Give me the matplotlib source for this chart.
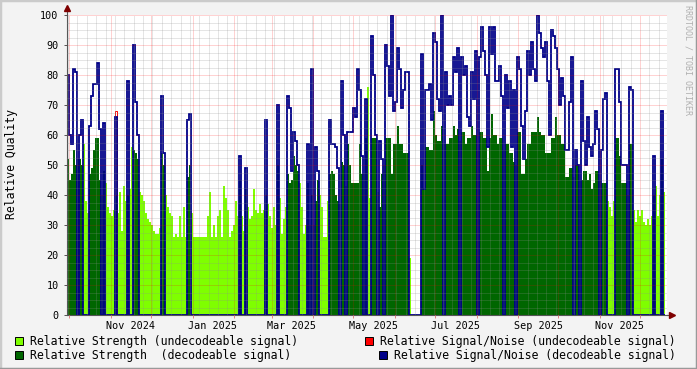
import datetime as dt
import numpy as np
import matplotlib
matplotlib.use("Agg")
import matplotlib.pyplot as plt
import matplotlib.dates as mdates
from matplotlib.patches import Rectangle
from matplotlib.lines import Line2D

plt.rcParams['font.family'] = ['DejaVu Sans Mono']

# one sample per ~1.5 days, starting late Sep 2024
start = dt.datetime(2024, 9, 29, 6)
span_days = 447.86
n_slots = 300

# relative strength while the signal could not be decoded (light green)
strength_undec = [
    0, 0, 0, 0, 0, 0, 0, 0, 57, 38,
    34, 0, 0, 0, 0, 0, 0, 40, 0, 44,
    36, 34, 33, 35, 0, 34, 41, 28, 43, 38,
    0, 42, 56, 0, 0, 0, 41, 40, 38, 34,
    32, 31, 30, 28, 27, 27, 29, 0, 0, 40,
    36, 34, 33, 26, 27, 26, 33, 26, 36, 26,
    0, 0, 34, 26, 26, 26, 26, 26, 26, 26,
    33, 41, 26, 30, 26, 33, 35, 26, 43, 39,
    35, 26, 28, 30, 38, 33, 0, 33, 28, 0,
    36, 32, 33, 42, 35, 34, 37, 34, 35, 0,
    37, 33, 29, 36, 30, 0, 39, 27, 32, 36,
    0, 0, 0, 0, 0, 0, 44, 36, 27, 30,
    0, 30, 0, 30, 0, 0, 40, 36, 26, 26,
    38, 0, 0, 0, 0, 0, 37, 0, 0, 43,
    0, 0, 0, 0, 0, 0, 0, 0, 47, 0,
    76, 39, 0, 0, 0, 41, 0, 0, 50, 0,
    0, 0, 0, 0, 0, 0, 0, 0, 0, 0,
    0, 19, 0, 0, 0, 0, 0, 0, 0, 0,
    0, 0, 0, 0, 0, 0, 0, 0, 57, 0,
    0, 0, 0, 0, 0, 0, 58, 0, 0, 0,
    0, 0, 0, 0, 0, 55, 0, 0, 0, 0,
    0, 0, 0, 0, 0, 0, 0, 0, 55, 0,
    0, 0, 0, 0, 50, 0, 0, 0, 0, 0,
    0, 0, 0, 0, 0, 0, 0, 0, 0, 0,
    0, 0, 0, 0, 0, 0, 0, 0, 0, 0,
    0, 0, 0, 46, 0, 0, 45, 0, 0, 0,
    0, 0, 0, 0, 0, 0, 45, 0, 0, 0,
    38, 36, 33, 38, 0, 0, 0, 0, 0, 0,
    40, 0, 0, 35, 31, 35, 33, 35, 31, 30,
    32, 30, 33, 0, 43, 33, 40, 0, 41,
]

# relative strength while decodable (dark green)
strength_dec = [
    52, 45, 47, 55, 50, 52, 52, 50, 0, 0,
    0, 47, 49, 55, 59, 59, 45, 0, 48, 0,
    0, 0, 0, 0, 40, 0, 0, 0, 0, 0,
    40, 0, 0, 55, 54, 52, 0, 0, 0, 0,
    0, 0, 0, 0, 0, 0, 0, 54, 50, 0,
    0, 0, 0, 0, 0, 0, 0, 0, 0, 0,
    46, 50, 0, 0, 0, 0, 0, 0, 0, 0,
    0, 0, 0, 0, 0, 0, 0, 0, 0, 0,
    0, 0, 0, 0, 0, 0, 45, 0, 0, 42,
    0, 0, 0, 0, 0, 0, 0, 0, 0, 40,
    0, 0, 0, 0, 0, 50, 0, 0, 0, 0,
    47, 44, 45, 53, 50, 48, 0, 0, 0, 0,
    44, 0, 40, 0, 38, 45, 0, 0, 0, 0,
    0, 47, 48, 47, 40, 38, 0, 51, 50, 0,
    57, 50, 44, 44, 44, 44, 57, 47, 0, 59,
    0, 0, 59, 59, 59, 0, 36, 47, 0, 59,
    59, 59, 47, 57, 57, 63, 57, 57, 54, 54,
    54, 0, 0, 0, 0, 0, 0, 50, 42, 56,
    56, 55, 55, 68, 60, 58, 58, 63, 0, 57,
    57, 59, 59, 63, 60, 62, 0, 61, 61, 57,
    59, 59, 63, 60, 60, 0, 61, 61, 59, 59,
    48, 59, 67, 60, 60, 57, 59, 59, 0, 57,
    57, 54, 54, 51, 0, 61, 61, 47, 47, 52,
    57, 57, 61, 61, 61, 66, 61, 60, 60, 54,
    54, 54, 59, 59, 66, 60, 60, 57, 57, 46,
    46, 49, 49, 0, 50, 50, 0, 45, 48, 48,
    45, 47, 42, 44, 48, 48, 0, 44, 44, 44,
    0, 0, 0, 0, 59, 59, 53, 44, 44, 44,
    0, 57, 57, 0, 0, 0, 0, 0, 0, 0,
    0, 0, 0, 40, 0, 0, 0, 52, 0,
]

# relative signal/noise while decodable (navy line)
snr_dec = [
    80, 60, 57, 82, 81, 0, 60, 65, 0, 0,
    0, 63, 73, 77, 77, 84, 62, 0, 64, 0,
    0, 0, 0, 0, 66, 0, 0, 0, 0, 0,
    78, 0, 0, 90, 71, 60, 0, 0, 0, 0,
    0, 0, 0, 0, 0, 0, 0, 73, 54, 0,
    0, 0, 0, 0, 0, 0, 0, 0, 0, 0,
    65, 67, 0, 0, 0, 0, 0, 0, 0, 0,
    0, 0, 0, 0, 0, 0, 0, 0, 0, 0,
    0, 0, 0, 0, 0, 0, 53, 0, 0, 49,
    0, 0, 0, 0, 0, 0, 0, 0, 0, 65,
    0, 0, 0, 0, 0, 70, 0, 0, 0, 0,
    73, 69, 48, 61, 58, 50, 0, 0, 0, 0,
    57, 0, 82, 0, 56, 48, 0, 0, 0, 0,
    0, 65, 57, 57, 56, 49, 0, 78, 60, 0,
    61, 61, 61, 69, 66, 82, 75, 53, 0, 72,
    0, 0, 93, 80, 60, 0, 58, 52, 0, 90,
    83, 73, 100, 68, 71, 89, 82, 69, 75, 81,
    81, 0, 0, 0, 0, 0, 0, 87, 42, 75,
    75, 77, 65, 94, 91, 72, 68, 100, 0, 81,
    70, 73, 70, 86, 81, 89, 0, 86, 80, 83,
    66, 63, 81, 72, 88, 0, 86, 96, 88, 80,
    56, 96, 87, 96, 78, 78, 83, 73, 0, 80,
    69, 78, 56, 75, 0, 86, 82, 63, 52, 68,
    88, 80, 91, 82, 78, 100, 94, 89, 86, 91,
    78, 60, 95, 93, 89, 82, 70, 79, 73, 55,
    55, 71, 86, 0, 55, 50, 0, 78, 58, 50,
    66, 56, 53, 57, 68, 62, 0, 55, 72, 74,
    0, 0, 0, 0, 82, 82, 71, 50, 50, 50,
    0, 76, 75, 0, 0, 0, 0, 0, 0, 0,
    0, 0, 0, 53, 0, 0, 0, 68, 0,
]

# relative signal/noise while undecodable (red line), almost always zero
snr_undec = [0] * 24 + [68] + [0] * 274

ylabel = "Relative Quality"
legend_labels = [
    "Relative Strength (undecodeable signal)",
    "Relative Signal/Noise (undecodeable signal)",
    "Relative Strength  (decodeable signal)",
    "Relative Signal/Noise (decodeable signal)",
]
c_light = '#7fff00'
c_red = '#ff0000'
c_dark = '#006600'
c_navy = '#000088'

t0 = mdates.date2num(start)
step = span_days / n_slots
edges = t0 + step * np.arange(len(snr_dec) + 1)

W, H = 697, 369
fig = plt.figure(figsize=(W / 100, H / 100), dpi=100, facecolor='#f3f3f3')
ax = fig.add_axes([67 / W, 1 - 315 / H, 600 / W, 300 / H])
ax.set_facecolor('white')

ax.stairs(strength_undec, edges, baseline=0, fill=True, color=c_light, lw=0, zorder=1.0)
ax.stairs(snr_undec, edges, baseline=0, fill=False, color=c_red, lw=0.7, zorder=1.1)
ax.stairs(strength_dec, edges, baseline=0, fill=True, color=c_dark, lw=0, zorder=1.2)
ax.stairs(snr_dec, edges, baseline=0, fill=False, color=c_navy, lw=1.3, zorder=1.3)

ax.set_xlim(t0, t0 + span_days)
ax.set_ylim(0, 100)

ax.yaxis.set_major_locator(matplotlib.ticker.MultipleLocator(10))
ax.yaxis.set_minor_locator(matplotlib.ticker.MultipleLocator(2.5))
ax.xaxis.set_major_locator(mdates.MonthLocator())
ax.xaxis.set_minor_locator(mdates.WeekdayLocator(byweekday=mdates.MO))
ax.xaxis.set_major_formatter(matplotlib.ticker.NullFormatter())

ax.set_axisbelow(False)
ax.grid(which='minor', color='#8f8f8f', alpha=0.45, linestyle=(0, (1, 1)), lw=0.72)
ax.grid(which='major', color='#ff0000', alpha=0.35, linestyle=(0, (1, 1)), lw=0.72)

ax.tick_params(axis='y', which='major', length=2, width=0.7, color='#555555',
               labelsize=7.3, pad=4)
ax.tick_params(axis='y', which='minor', length=0)
ax.tick_params(axis='x', which='major', length=2, width=0.7, color='#e08080')
ax.tick_params(axis='x', which='minor', length=0)

for s in ('top', 'right'):
    ax.spines[s].set_visible(False)
for s in ('left', 'bottom'):
    ax.spines[s].set_color('#555555')
    ax.spines[s].set_linewidth(0.8)

# month labels centred mid-month, every second month
label_dates = [dt.datetime(y, m, 16) for y, m in
               [(2024, 11), (2025, 1), (2025, 3), (2025, 5), (2025, 7), (2025, 9), (2025, 11)]]
sec = ax.secondary_xaxis('bottom')
sec.set_xticks([mdates.date2num(d) for d in label_dates])
sec.set_xticklabels([d.strftime('%b %Y') for d in label_dates])
sec.tick_params(length=0, labelsize=7.3, pad=4)
sec.spines['bottom'].set_visible(False)

# axis arrows
ax.plot([0, 0], [1, 1.025], transform=ax.transAxes, color='#555555', lw=0.8, clip_on=False)
ax.plot([0], [1.025], marker='^', markersize=4, color='#7f0000', transform=ax.transAxes, clip_on=False)
ax.plot([1, 1.008], [0, 0], transform=ax.transAxes, color='#555555', lw=0.8, clip_on=False)
ax.plot([1.008], [0], marker='>', markersize=4, color='#7f0000', transform=ax.transAxes, clip_on=False)

fig.text(12 / W, 1 - 164 / H, ylabel, rotation=90, ha='center', va='center', fontsize=8.3)
fig.text(688 / W, 1 - 60 / H, "RRDTOOL / TOBI OETIKER", rotation=270, ha='center',
         va='center', fontsize=6, color='#b0b0b0')

# legend, two rows
legend_pos = [(15, 341, 30), (365, 341, 380), (15, 355, 30), (379, 355, 394)]
legend_cols = [c_light, c_red, c_dark, c_navy]
for (bx, by, tx), col, lab in zip(legend_pos, legend_cols, legend_labels):
    fig.add_artist(Rectangle((bx / W, 1 - (by + 4) / H), 8 / W, 8 / H,
                             transform=fig.transFigure, facecolor=col,
                             edgecolor='black', lw=0.7))
    fig.text(tx / W, 1 - by / H, lab, ha='left', va='center', fontsize=8.3)

# 3d-ish frame
fig.add_artist(Line2D([0, 1], [1, 1], transform=fig.transFigure, color='#cbcbcb', lw=2.5))
fig.add_artist(Line2D([0, 0], [0, 1], transform=fig.transFigure, color='#cbcbcb', lw=2.5))
fig.add_artist(Line2D([0, 1], [0, 0], transform=fig.transFigure, color='#999999', lw=2.5))
fig.add_artist(Line2D([1, 1], [0, 1], transform=fig.transFigure, color='#999999', lw=2.5))

fig.savefig('out.png', dpi=100, facecolor=fig.get_facecolor())
